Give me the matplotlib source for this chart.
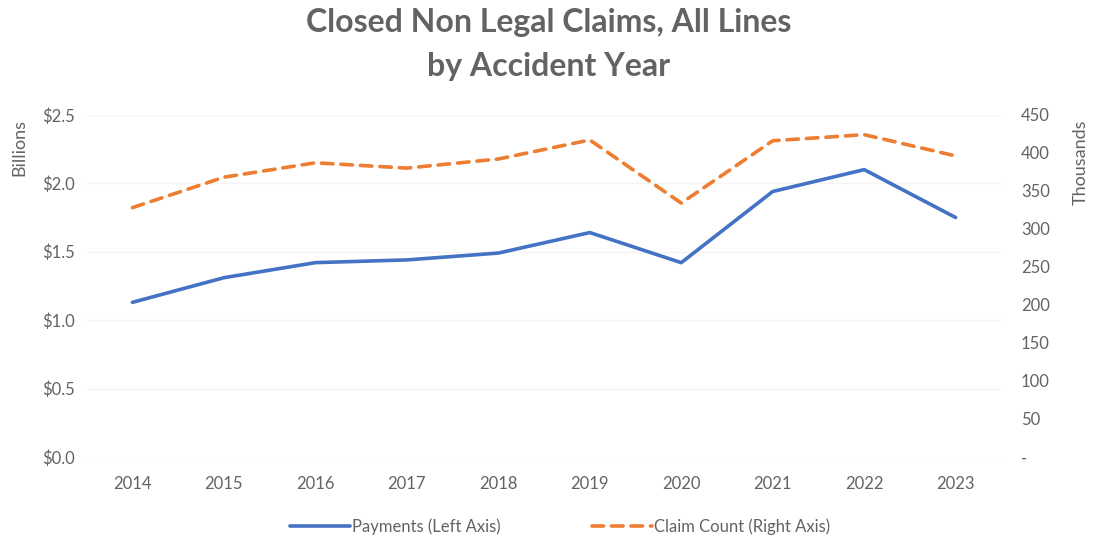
import matplotlib
matplotlib.use("Agg")
import matplotlib.pyplot as plt
from matplotlib.ticker import FuncFormatter

#### chart data
years = ["2014", "2015", "2016", "2017", "2018", "2019", "2020", "2021", "2022", "2023"]
payments = [1.13, 1.31, 1.42, 1.44, 1.49, 1.64, 1.42, 1.94, 2.10, 1.75]  # $ billions
claims = [328, 368, 387, 380, 392, 417, 334, 416, 424, 396]  # thousands

left_ticks = [0.0, 0.5, 1.0, 1.5, 2.0, 2.5]
right_ticks = [0, 50, 100, 150, 200, 250, 300, 350, 400, 450]

################

plt.rcParams['font.family'] = ['Lato', 'DejaVu Sans']
gray = "#636363"
blue = "#4472C4"
orange = "#ED7D31"

fig = plt.figure(figsize=(10.98, 5.42), dpi=100)
ax = fig.add_axes([0.079, 0.157, 0.833, 0.631])
ax2 = ax.twinx()

x = range(len(years))
l1, = ax.plot(x, payments, color=blue, lw=2.6, solid_capstyle='round', zorder=3)
l2, = ax2.plot(x, claims, color=orange, lw=2.6, ls=(0, (3.2, 2.2)), dash_capstyle='round', zorder=3)

ax.set_xlim(-0.5, len(years) - 0.5)
ax.set_ylim(0, 2.5)
ax2.set_ylim(0, 450)
ax.set_xticks(list(x))
ax.set_xticklabels(years)
ax.set_yticks(left_ticks)
ax2.set_yticks(right_ticks)
ax.yaxis.set_major_formatter(FuncFormatter(lambda v, p: "${:.1f}".format(v)))
ax2.yaxis.set_major_formatter(FuncFormatter(lambda v, p: "-" if v == 0 else "{:d}".format(int(v))))

ax.grid(axis='y', color="#f4f4f4", lw=1)
ax.set_axisbelow(True)
for a in (ax, ax2):
    for s in a.spines.values():
        s.set_visible(False)
    a.tick_params(length=0, labelsize=12, colors=gray)
ax.tick_params(axis='x', pad=14)
ax.tick_params(axis='y', pad=32)
ax2.tick_params(axis='y', pad=14)
for lab in ax.get_yticklabels():
    lab.set_horizontalalignment('left')

fig.text(0.018, 0.78, "Billions", rotation=90, color=gray, fontsize=13, va='top', ha='center')
fig.text(0.984, 0.78, "Thousands", rotation=90, color=gray, fontsize=13, va='top', ha='center')

fig.suptitle("Closed Non Legal Claims, All Lines\nby Accident Year", y=0.985,
             fontsize=23, fontweight='bold', color=gray, linespacing=1.6)

fig.legend([l1, l2], ["Payments (Left Axis)", "Claim Count (Right Axis)"],
           loc='center', bbox_to_anchor=(0.51, 0.028), ncol=2, frameon=False,
           fontsize=12, labelcolor=gray, handlelength=3.6, handletextpad=0.1,
           columnspacing=5.5)

plt.savefig('out.png', dpi=100)
